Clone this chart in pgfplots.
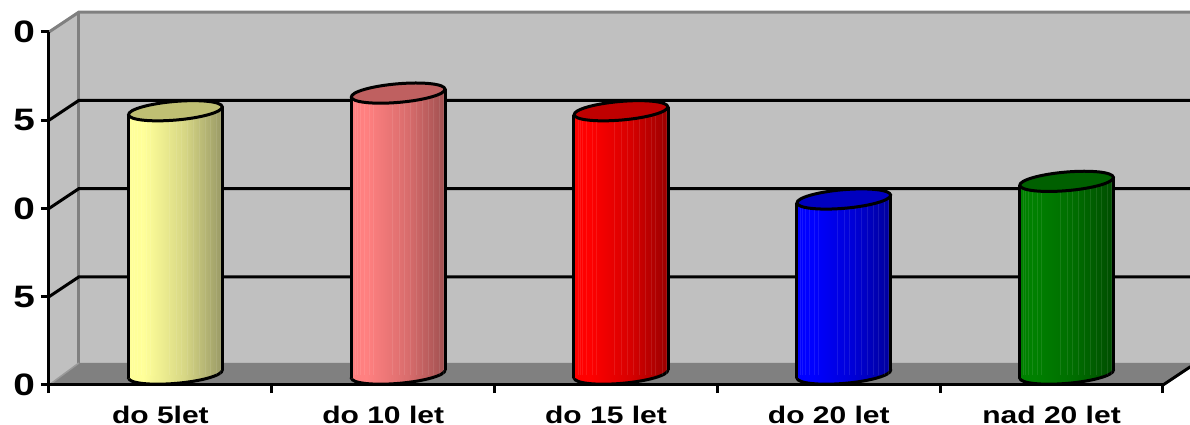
\documentclass[border=0pt]{standalone}
\usepackage{fontspec}
\setmainfont[FakeStretch=1.25]{Liberation Sans}
\usepackage{pgfplots}
\usepackage{pgfplotstable}
\pgfplotsset{compat=1.18}

\definecolor{wall}{HTML}{C0C0C0}
\definecolor{floorc}{HTML}{808080}
\definecolor{edge}{HTML}{808080}

% side shadings of the cylinders (25bp..75bp is the width of the body)
\definecolor{yA}{HTML}{FFFF99}\definecolor{yB}{HTML}{999966}\definecolor{yT}{HTML}{BFBF73}
\definecolor{pA}{HTML}{FF8080}\definecolor{pB}{HTML}{A05050}\definecolor{pT}{HTML}{BF6060}
\definecolor{rA}{HTML}{FF0000}\definecolor{rB}{HTML}{9A0000}\definecolor{rT}{HTML}{BF0000}
\definecolor{bA}{HTML}{0000FF}\definecolor{bB}{HTML}{00009A}\definecolor{bT}{HTML}{0000BF}
\definecolor{gA}{HTML}{008000}\definecolor{gB}{HTML}{004D00}\definecolor{gT}{HTML}{006000}
\pgfdeclarehorizontalshading{cylY}{100bp}{color(0bp)=(yA); color(33bp)=(yA); color(55bp)=(yA!60!yB); color(75bp)=(yB); color(100bp)=(yB)}
\pgfdeclarehorizontalshading{cylP}{100bp}{color(0bp)=(pA); color(33bp)=(pA); color(55bp)=(pA!60!pB); color(75bp)=(pB); color(100bp)=(pB)}
\pgfdeclarehorizontalshading{cylR}{100bp}{color(0bp)=(rA); color(33bp)=(rA); color(55bp)=(rA!60!rB); color(75bp)=(rB); color(100bp)=(rB)}
\pgfdeclarehorizontalshading{cylB}{100bp}{color(0bp)=(bA); color(33bp)=(bA); color(55bp)=(bA!60!bB); color(75bp)=(bB); color(100bp)=(bB)}
\pgfdeclarehorizontalshading{cylG}{100bp}{color(0bp)=(gA); color(33bp)=(gA); color(55bp)=(gA!60!gB); color(75bp)=(gB); color(100bp)=(gB)}

% end caps of the cylinders: an ellipse tilted by about 5 degrees
\newcommand{\capmark}[2]{\pgfdeclareplotmark{#1}{\path[#2,draw=black,line width=3pt]
    (46.83pt,4.01pt)
    .. controls (46.39pt,9.13pt) and (25.07pt,11.48pt) .. (-0.79pt,9.27pt)
    .. controls (-26.65pt,7.06pt) and (-47.27pt,1.11pt) .. (-46.83pt,-4.01pt)
    .. controls (-46.39pt,-9.13pt) and (-25.07pt,-11.48pt) .. (0.79pt,-9.27pt)
    .. controls (26.65pt,-7.06pt) and (47.27pt,-1.11pt) .. (46.83pt,4.01pt) -- cycle;}}
\capmark{botY}{shading=cylY}\capmark{topY}{fill=yT}
\capmark{botP}{shading=cylP}\capmark{topP}{fill=pT}
\capmark{botR}{shading=cylR}\capmark{topR}{fill=rT}
\capmark{botB}{shading=cylB}\capmark{topB}{fill=bT}
\capmark{botG}{shading=cylG}\capmark{topG}{fill=gT}

% faint vertical stripes on the bodies, x at the first cylinder's position,
% one height column for each value
\pgfplotstableread{
x     a  b  c  d
0.307 15 16 10 11
0.316 15 16 10 11
0.329 15 16 10 11
0.347 15 16 10 11
0.370 15 16 10 11
0.388 15 16 10 11
0.473 15 16 10 11
0.504 15 16 10 11
0.527 15 16 10 11
0.554 15 16 10 11
0.581 15 16 10 11
0.608 15 16 10 11
0.635 15 16 10 11
0.657 15 16 10 11
0.684 15 16 10 11
0.702 15 16 10 11
}\stripetable

\pgfplotsset{cylaxis/.style={
    at={(64pt,49.5pt)}, anchor=origin,
    scale only axis, width=1114pt, height=353pt,
    xmin=0, xmax=5, ymin=0, ymax=20,
    clip=false, hide axis,
},
stripe/.style={ycomb, white, opacity=0.09, line width=1pt}}

\begin{document}
\begin{tikzpicture}[x=1pt,y=1pt]
\path[use as bounding box] (0,0) rectangle (1190,425);
\clip (13.2,0) rectangle (1190,425);

% front plane: ticks, labels, walls and floor
\begin{axis}[
    at={(49pt,40pt)}, anchor=origin,
    scale only axis, width=1114pt, height=353pt,
    xmin=0, xmax=5, ymin=0, ymax=20,
    clip=false, axis on top,
    axis lines*=left,
    axis line style={line width=3pt, black},
    tick style={line width=3pt, black},
    major tick length=8pt, tick align=outside,
    tick label style={font=\fontsize{31}{31}\selectfont\bfseries},
    /pgf/number format/assume math mode=true,
    ytick={0,5,10,15,20},
    xtick={0,1,2,3,4,5}, xticklabels={},
    yticklabel style={xshift=-6pt},
    tick label style={inner sep=0pt, outer sep=0pt},
    extra x ticks={0.5,1.5,2.5,3.5,4.5},
    extra x tick labels={do 5let,do 10 let,do 15 let,do 20 let,nad 20 let},
    extra x tick style={
        major tick length=0pt,
        xticklabel style={anchor=base, yshift=-38pt, font=\fontsize{24}{24}\selectfont\bfseries},
    },
]
% back wall, left wall, floor
\addplot[fill=wall, draw=none] coordinates {(0.1346,1.25) (5.1346,1.25) (5.1346,21.13) (0.1346,21.13)} --cycle;
\addplot[fill=wall, draw=none] coordinates {(0,0) (0.1346,1.25) (0.1346,21.13) (0,20)} --cycle;
\addplot[fill=floorc, draw=none] coordinates {(0,0) (0.1346,1.25) (5.1346,1.25) (5,0)} --cycle;
% wall edges
\addplot[edge, line width=3pt] coordinates {(0,20) (0.1346,21.13) (5.1346,21.13)};
\addplot[edge, line width=3pt] coordinates {(0.1346,21.13) (0.1346,1.25)};
\addplot[edge!60!wall, line width=1.5pt] coordinates {(0,0) (0.1346,1.25)};
% grid lines
\addplot[black, line width=3pt] coordinates {(0,5) (0.1346,6.13) (5.1346,6.13)};
\addplot[black, line width=3pt] coordinates {(0,10) (0.1346,11.13) (5.1346,11.13)};
\addplot[black, line width=3pt] coordinates {(0,15) (0.1346,16.13) (5.1346,16.13)};
% right end of the floor
\addplot[black, line width=3pt] coordinates {(5,0) (5.1346,1.13)};
\end{axis}

% lower caps first, half a depth behind the front plane
\begin{axis}[cylaxis]
\addplot[only marks, mark=botY] coordinates {(0.5,0.08)};
\addplot[only marks, mark=botP] coordinates {(1.5,0.08)};
\addplot[only marks, mark=botR] coordinates {(2.5,0.08)};
\addplot[only marks, mark=botB] coordinates {(3.5,0.08)};
\addplot[only marks, mark=botG] coordinates {(4.5,0.08)};
\end{axis}

% bodies and upper caps
\begin{axis}[cylaxis]
\addplot[shading=cylY, draw=none] coordinates {(0.289,-0.15) (0.711,0.31) (0.711,15.23) (0.289,14.77)} --cycle;
\addplot[shading=cylP, draw=none] coordinates {(1.289,-0.15) (1.711,0.31) (1.711,16.23) (1.289,15.77)} --cycle;
\addplot[shading=cylR, draw=none] coordinates {(2.289,-0.15) (2.711,0.31) (2.711,15.23) (2.289,14.77)} --cycle;
\addplot[shading=cylB, draw=none] coordinates {(3.289,-0.15) (3.711,0.31) (3.711,10.23) (3.289,9.77)} --cycle;
\addplot[shading=cylG, draw=none] coordinates {(4.289,-0.15) (4.711,0.31) (4.711,11.23) (4.289,10.77)} --cycle;

\addplot[stripe] table[x=x, y=a] {\stripetable};
\addplot[stripe, xshift=222.8pt] table[x=x, y=b] {\stripetable};
\addplot[stripe, xshift=445.6pt] table[x=x, y=a] {\stripetable};
\addplot[stripe, xshift=668.4pt] table[x=x, y=c] {\stripetable};
\addplot[stripe, xshift=891.2pt] table[x=x, y=d] {\stripetable};

\addplot[black, line width=3pt, unbounded coords=jump] coordinates {
    (0.289,-0.15) (0.289,14.77) (0.289,nan) (0.711,0.31) (0.711,15.23) (0.711,nan)
    (1.289,-0.15) (1.289,15.77) (1.289,nan) (1.711,0.31) (1.711,16.23) (1.711,nan)
    (2.289,-0.15) (2.289,14.77) (2.289,nan) (2.711,0.31) (2.711,15.23) (2.711,nan)
    (3.289,-0.15) (3.289,9.77) (3.289,nan) (3.711,0.31) (3.711,10.23) (3.711,nan)
    (4.289,-0.15) (4.289,10.77) (4.289,nan) (4.711,0.31) (4.711,11.23)
};

\addplot[only marks, mark=topY] coordinates {(0.5,15)};
\addplot[only marks, mark=topP] coordinates {(1.5,16)};
\addplot[only marks, mark=topR] coordinates {(2.5,15)};
\addplot[only marks, mark=topB] coordinates {(3.5,10)};
\addplot[only marks, mark=topG] coordinates {(4.5,11)};
\end{axis}
\end{tikzpicture}
\end{document}
